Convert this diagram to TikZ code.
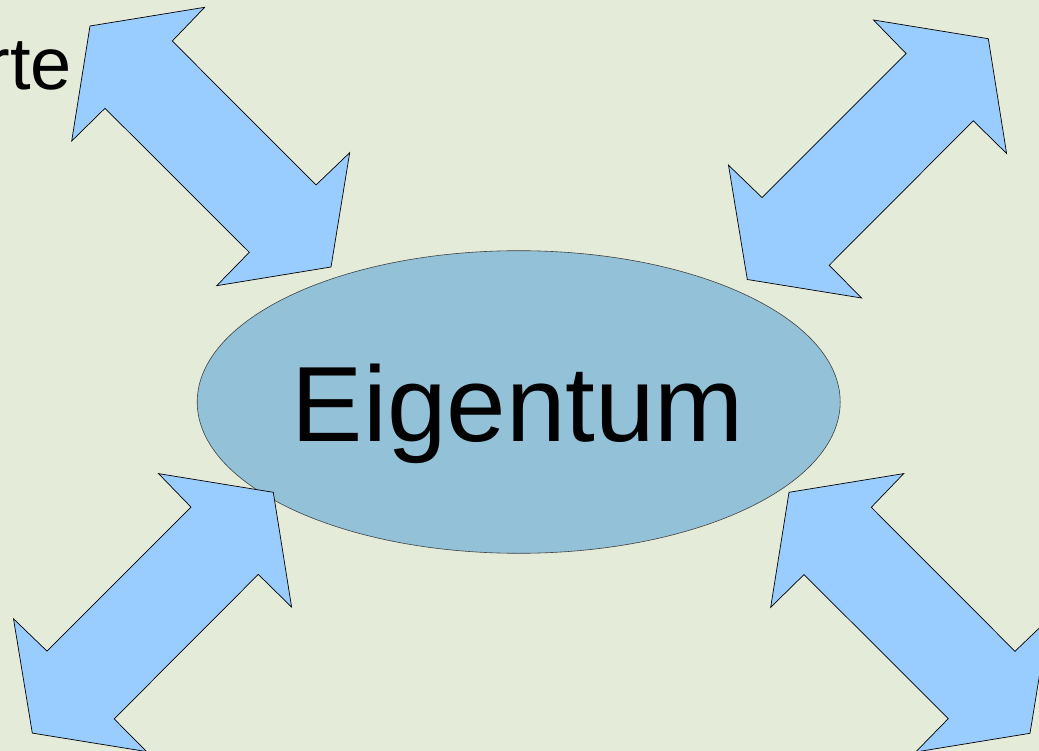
\documentclass[tikz,border=0pt]{standalone}
\usepackage{fontspec}
\setmainfont{Liberation Sans}
\usetikzlibrary{shapes.geometric}
\definecolor{bgc}{HTML}{E4EBD9}
\definecolor{arrowc}{HTML}{99CCFF}
\definecolor{ellc}{HTML}{93C2D8}
\tikzset{
  blockarrow/.style={fill=arrowc, draw=black, line width=0.7pt, line join=miter},
  bigtext/.style={inner sep=0pt, font=\fontsize{107}{107}\selectfont},
  sidetext/.style={inner sep=0pt, font=\fontsize{74}{74}\selectfont}
}
\begin{document}
\begin{tikzpicture}[x=1pt, y=-1pt]
\useasboundingbox (0,0) rectangle (1039,751);
\clip (0,0) rectangle (1039,751);
\fill[bgc] (0,0) rectangle (1039,751);
% central ellipse
\draw[fill=ellc, draw=black!75, line width=0.6pt] (518.7,402) ellipse [x radius=321.5, y radius=151.3];
\node[bigtext, anchor=base] (eig) at (518,441) {Eigentum};
% partially cut text
\node[sidetext, anchor=base east] (rte) at (72,89.3) {rte};
% top-left arrow
\draw[blockarrow] (90,26) -- (204.7,7.3) -- (172.3,41) -- (316,185) -- (349.7,152.7) -- (331,267) -- (216.7,285.7) -- (249.3,252.3) -- (105,108.3) -- (71.7,141) -- cycle;
% bottom-right arrow (top-left shifted)
\begin{scope}[shift={(699,466.3)}]
\draw[blockarrow] (90,26) -- (204.7,7.3) -- (172.3,41) -- (316,185) -- (349.7,152.7) -- (331,267) -- (216.7,285.7) -- (249.3,252.3) -- (105,108.3) -- (71.7,141) -- cycle;
\end{scope}
% top-right arrow
\draw[blockarrow] (988.3,38.7) -- (873.5,20) -- (906,53.5) -- (762,197.5) -- (728.5,165.2) -- (747.3,279.5) -- (861.6,298) -- (829.2,265.3) -- (973.3,120.8) -- (1006.6,153.5) -- cycle;
% bottom-left arrow (top-right shifted)
\begin{scope}[shift={(-715,453.6)}]
\draw[blockarrow] (988.3,38.7) -- (873.5,20) -- (906,53.5) -- (762,197.5) -- (728.5,165.2) -- (747.3,279.5) -- (861.6,298) -- (829.2,265.3) -- (973.3,120.8) -- (1006.6,153.5) -- cycle;
\end{scope}
\end{tikzpicture}
\end{document}
